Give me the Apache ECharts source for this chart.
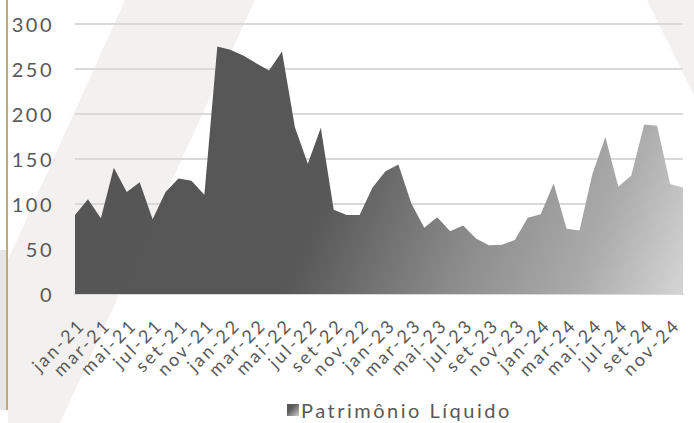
<!DOCTYPE html>
<html><head><meta charset="utf-8">
<script src="https://cdn.jsdelivr.net/npm/echarts@6/dist/echarts.min.js"></script>
<style>
html,body{margin:0;padding:0;background:#fff}
#c{width:694px;height:423px}
#c text{letter-spacing:2.5px}
</style>
</head><body><div id="c"></div>
<script>
const months = ['jan','fev','mar','abr','mai','jun','jul','ago','set','out','nov','dez'];
const years = ['21','22','23','24'];
const categories = [];
years.forEach(y => months.forEach(m => categories.push(m + '-' + y)));
const seriesName = 'Patrimônio Líquido';
const values = [
  87.5, 105, 84, 140, 113, 124, 83, 113, 128, 125.5, 110, 274.5,
  271, 264.5, 256, 248, 269, 185, 144.5, 184.5, 93.5, 87.5, 87.5, 118,
  136, 143.5, 100.5, 73.5, 85, 69.5, 76, 61.5, 54, 54.5, 60, 84.5,
  88.5, 122.5, 72.5, 70.5, 133.5, 174, 119, 131.5, 188, 186.5, 122, 118
];
const yTicks = [0, 50, 100, 150, 200, 250, 300];

const FONT = 'Lato';
const W = 694, H = 423;
const gridBox = {left: 75, right: 11, top: 23.5, bottom: 129};
const grad = new echarts.graphic.LinearGradient(
  gridBox.left, 46, W - gridBox.right, H - gridBox.bottom, [
  {offset: 0, color: '#555555'},
  {offset: 0.44, color: '#585858'},
  {offset: 0.68, color: '#8e8e8e'},
  {offset: 0.85, color: '#ababab'},
  {offset: 1, color: '#d5d5d5'}
], true);
const legendGrad = new echarts.graphic.LinearGradient(0, 0, 1, 1, [
  {offset: 0, color: '#555555'},
  {offset: 0.35, color: '#5a5a5a'},
  {offset: 1, color: '#cfcfcf'}
]);

const chart = echarts.init(document.getElementById('c'), null, {renderer: 'svg'});
chart.setOption({
  animation: false,
  backgroundColor: '#ffffff',
  graphic: [
    {type: 'polygon', z: -10, silent: true,
     shape: {points: [[125,0],[255,0],[60,423],[8,423],[8,260]]},
     style: {fill: '#f2f1ef'}},
    {type: 'polygon', z: -10, silent: true,
     shape: {points: [[647,0],[694,0],[694,95]]},
     style: {fill: '#f2f1ef'}},
    {type: 'rect', z: -10, silent: true,
     shape: {x: 0, y: 250, width: 6, height: 160},
     style: {fill: '#e6e6e4'}},
    {type: 'rect', z: -9, silent: true,
     shape: {x: 6, y: 0, width: 2, height: 410},
     style: {fill: '#c2a878'}}
  ],
  grid: gridBox,
  legend: {
    left: 282, top: 395,
    itemWidth: 12, itemHeight: 12, itemGap: 10,
    icon: 'rect',
    data: [{name: seriesName, icon: 'rect', itemStyle: {color: legendGrad}}],
    textStyle: {fontFamily: FONT, fontSize: 20, lineHeight: 20, color: '#595959', padding: [0, 0, 0, -3]}
  },
  xAxis: {
    type: 'category',
    data: categories,
    boundaryGap: false,
    axisLine: {lineStyle: {color: '#d9d9d9', width: 2}},
    axisTick: {show: false},
    splitLine: {show: false},
    axisLabel: {
      interval: 1,
      rotate: 45,
      margin: 21,
      verticalAlign: 'top',
      fontFamily: FONT, fontSize: 18, color: '#595959'
    }
  },
  yAxis: {
    type: 'value',
    min: 0, max: 300, interval: 50,
    axisLine: {show: false},
    axisTick: {show: false},
    splitLine: {lineStyle: {color: '#d9d9d9', width: 2}},
    axisLabel: {
      margin: 21,
      fontFamily: FONT, fontSize: 20, color: '#595959',
      formatter: v => yTicks.includes(v) ? String(v) : ''
    }
  },
  series: [{
    name: seriesName,
    type: 'line',
    data: values,
    symbol: 'none',
    lineStyle: {width: 0},
    itemStyle: {color: '#7a7a7a'},
    areaStyle: {color: grad, opacity: 1}
  }]
});
</script></body></html>
